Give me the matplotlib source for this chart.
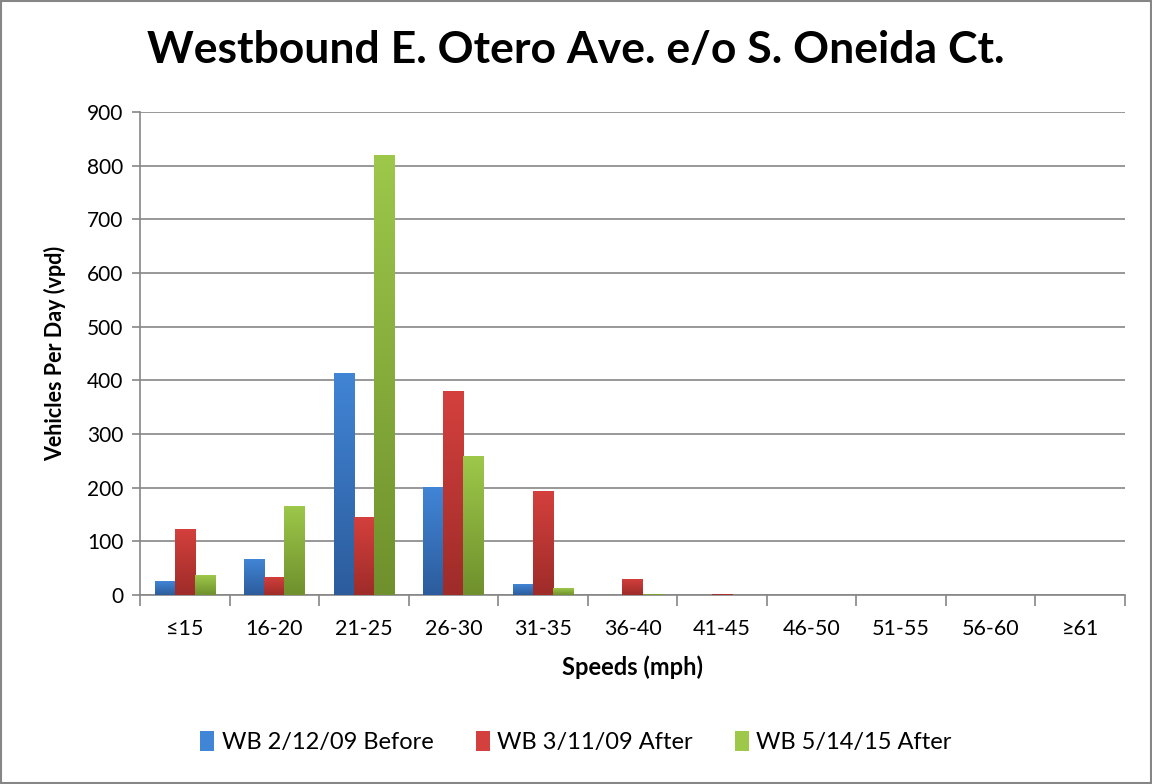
import numpy as np
import matplotlib
matplotlib.use("Agg")
import matplotlib.pyplot as plt
from matplotlib.colors import LinearSegmentedColormap
from matplotlib.patches import Rectangle

categories = ["≤15", "16-20", "21-25", "26-30", "31-35", "36-40", "41-45", "46-50", "51-55", "56-60", "≥61"]
series_names = ["WB 2/12/09 Before", "WB 3/11/09 After", "WB 5/14/15 After"]
before_2009 = [26, 67, 414, 201, 20, 0, 0, 0, 0, 0, 0]
after_2009 = [123, 34, 145, 380, 194, 30, 2, 0, 0, 0, 0]
after_2015 = [37, 166, 820, 259, 13, 2, 0, 0, 0, 0, 0]
yticks = [0, 100, 200, 300, 400, 500, 600, 700, 800, 900]

light = ["#4185D6", "#D4403D", "#9DC84A"]
dark = ["#2C5C9C", "#9E2C29", "#6F902C"]

plt.rcParams['font.family'] = ['Lato', 'DejaVu Sans']

fig = plt.figure(figsize=(11.52, 7.84), dpi=100)
ax = fig.add_axes([140/1152, 1 - 595/784, (1125-140)/1152, (595-112)/784])

x = np.arange(len(categories))
w = 0.225
data = [before_2009, after_2009, after_2015]
for i, vals in enumerate(data):
    bars = ax.bar(x + (i - 1) * w, vals, width=w, color=light[i], label=series_names[i], zorder=3)
    cmap = LinearSegmentedColormap.from_list(f"g{i}", [dark[i], light[i]])
    grad = np.linspace(0, 1, 256).reshape(-1, 1)
    for b in bars:
        h = b.get_height()
        if h <= 0:
            continue
        x0 = b.get_x()
        im = ax.imshow(grad, cmap=cmap, origin="lower", aspect="auto",
                       extent=[x0, x0 + b.get_width(), 0, h], zorder=3.5)
        im.set_clip_path(b)

ax.set_xlim(-0.5, len(categories) - 0.5)
ax.set_ylim(0, 900)
ax.set_yticks(yticks)
ax.set_yticklabels([str(t) for t in yticks], fontsize=15)
ax.set_xticks(x)
ax.set_xticklabels(categories, fontsize=15.5)
ax.set_xticks(np.arange(-0.5, len(categories)), minor=True)
ax.tick_params(axis='x', which='major', length=0, pad=17)
ax.tick_params(axis='x', which='minor', length=8, color="#868686", width=1.2)
ax.tick_params(axis='y', length=6, color="#868686", width=1.2, pad=6)
ax.grid(axis='y', color="#868686", linewidth=1.2, zorder=0)
for s in ["top", "right"]:
    ax.spines[s].set_visible(False)
for s in ["left", "bottom"]:
    ax.spines[s].set_color("#868686")
    ax.spines[s].set_linewidth(1.2)

ax.set_xlabel("Speeds (mph)", fontsize=17, fontweight="bold", labelpad=12)
ax.set_ylabel("Vehicles Per Day (vpd)", fontsize=15.5, fontweight="bold", labelpad=15)
fig.text(576/1152, 1 - 50/784, "Westbound E. Otero Ave. e/o S. Oneida Ct.", ha="center", va="center",
         fontsize=32, fontweight="bold")

leg = fig.legend(loc="center", bbox_to_anchor=(0.5, 1 - 742/784), ncol=3, frameon=False,
                 fontsize=17, handlelength=0.6, handleheight=0.9, columnspacing=1.8, handletextpad=0.3)

fig.add_artist(Rectangle((0.001, 0.001), 0.998, 0.998, transform=fig.transFigure, fill=False,
                         edgecolor="#868686", linewidth=1.5))

fig.savefig("out.png", dpi=100)
